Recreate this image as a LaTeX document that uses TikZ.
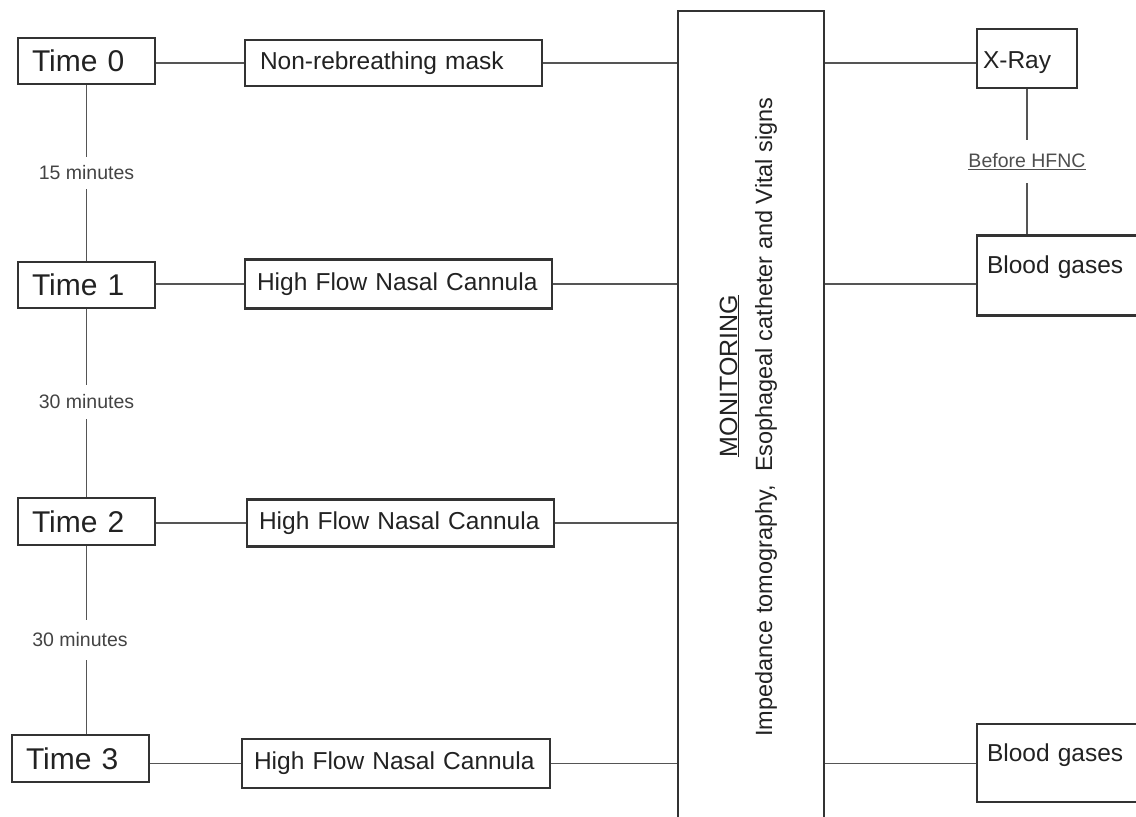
\documentclass[tikz,border=0pt]{standalone}
\usepackage{fontspec}
\setmainfont{Liberation Sans}
\definecolor{ink}{HTML}{222222}
\definecolor{frame}{HTML}{333333}
\definecolor{wire}{HTML}{555555}
\tikzset{every node/.style={font=\fontsize{24.5}{29}\selectfont,text=ink},
box/.style={draw=frame,line width=2.1pt,inner xsep=12pt,inner ysep=0pt,align=left},
timebox/.style={box,font=\fontsize{30}{34}\selectfont,inner xsep=14pt,text width=109pt,minimum height=46pt},
gap/.style={font=\fontsize{19.5}{23}\selectfont,text=ink!85,inner sep=0pt,minimum height=32pt},
link/.style={draw=wire,line width=1.8pt}}
\begin{document}
\begin{tikzpicture}[x=1pt,y=1pt]
\clip (0,0) rectangle (1136,-817);
\node[timebox] (t0) at (86.5,-61) {Time 0};
\node[timebox] (t1) at (86.5,-285) {Time 1};
\node[timebox,minimum height=47pt] (t2) at (86.5,-521.5) {Time 2};
\node[timebox,minimum height=47pt] (t3) at (80.5,-758.5) {Time 3};
\node[gap] (g1) at (86.5,-173) {15 minutes};
\node[gap,minimum height=34pt] (g2) at (86.5,-402) {30 minutes};
\node[gap,minimum height=40pt] (g3) at (80,-640) {30 minutes};
\draw[link] (t0.south) -- (t0.south |- g1.north) (g1.south -| t0.south) -- (t1.north);
\draw[link] (t1.south) -- (t1.south |- g2.north) (g2.south -| t1.south) -- (t2.north);
\draw[link] (t2.south) -- (t2.south |- g3.north) (g3.south -| t2.south) -- (t2.south |- t3.north);
\node[box,inner xsep=15pt,text width=267pt,minimum height=46pt] (m0) at (393.5,-63) {Non-rebreathing mask};
\node[box,text width=283pt,minimum height=49pt] (m1) at (398.5,-284) {High Flow Nasal Cannula};
\node[box,text width=283pt,minimum height=47pt] (m2) at (400.5,-523) {High Flow Nasal Cannula};
\node[box,text width=284pt,minimum height=49pt] (m3) at (396,-763.5) {High Flow Nasal Cannula};
\draw[link] (m0.west -| t0.east) -- (m0.west);
\draw[link] (m1.west -| t1.east) -- (m1.west);
\draw[link] (m2.west -| t2.east) -- (m2.west);
\draw[link] (m3.west -| t3.east) -- (m3.west);
\node[draw=frame,line width=2.1pt,minimum width=146pt,minimum height=822pt,inner sep=0pt] (mon) at (751,-422) {};
\node[rotate=90,anchor=base,font=\fontsize{25}{30}\selectfont] (mt) at (737,-376) {\underline{MONITORING}};
\node[rotate=90,anchor=base,font=\fontsize{23.5}{28}\selectfont] (md) at (772,-417)
{Impedance tomography,\ \ Esophageal catheter and Vital signs};
\draw[link] (m0.east) -- (m0.east -| mon.west);
\draw[link] (m1.east) -- (m1.east -| mon.west);
\draw[link] (m2.east) -- (m2.east -| mon.west);
\draw[link] (m3.east) -- (m3.east -| mon.west);
\node[box,inner xsep=6pt,text width=88pt,minimum height=59pt,text height=25pt] (xr) at (1027,-58.5) {X-Ray};
\node[gap,minimum height=43pt,text=ink!80] (hf) at (1027,-161.5) {\underline{Before HFNC}};
\node[box,inner xsep=10pt,text width=160pt,minimum height=80pt,text depth=22pt] (b1) at (1067,-275.5) {Blood gases};
\node[box,inner xsep=10pt,text width=160pt,minimum height=78pt,text depth=21pt] (b2) at (1067,-763) {Blood gases};
\draw[link] (m0.east -| mon.east) -- (m0.east -| xr.west);
\draw[link] (m1.east -| mon.east) -- (m1.east -| b1.west);
\draw[link] (m3.east -| mon.east) -- (m3.east -| b2.west);
\draw[link] (xr.south) -- (hf.north) (hf.south) -- (hf.south |- b1.north);
\end{tikzpicture}
\end{document}
